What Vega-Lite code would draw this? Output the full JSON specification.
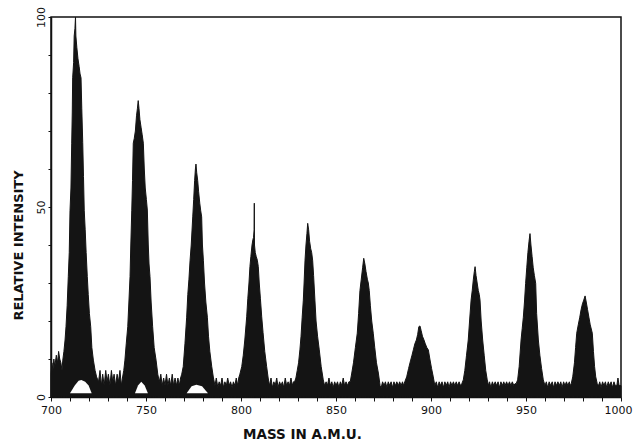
{
"$schema":"https://vega.github.io/schema/vega-lite/v6.json",
"width":570,"height":380,
"autosize":"none",
"padding":{"left":51,"top":17,"right":12,"bottom":51},
"background":"white",
"config":{"view":{"stroke":"#111","strokeWidth":1.5},
"axis":{"domainColor":"#111","domainWidth":1.5,"tickColor":"#111","labelColor":"#111","titleColor":"#111","labelFont":"DejaVu Sans","titleFont":"DejaVu Sans","grid":false,"labelOverlap":false}},
"datasets":{
"spec":[
{"m":700,"v":6},{"m":700.5,"v":9},{"m":701,"v":7},{"m":701.5,"v":10},{"m":702,"v":8},{"m":702.8,"v":11},{"m":703.5,"v":9},{"m":704,"v":12},{"m":704.6,"v":10},{"m":705.2,"v":9},{"m":705.8,"v":7},
{"m":706.2,"v":9.7},{"m":706.8,"v":12},{"m":707.4,"v":15},{"m":707.9,"v":18.5},{"m":708.5,"v":24},{"m":709.1,"v":31.7},{"m":709.6,"v":38},{"m":710,"v":49},{"m":710.5,"v":55},{"m":710.9,"v":66.8},{"m":711.2,"v":75},{"m":711.4,"v":84},{"m":711.9,"v":88},{"m":712.2,"v":95},{"m":712.6,"v":97},{"m":712.9,"v":100},{"m":713.1,"v":95},{"m":713.6,"v":92},{"m":714.2,"v":89},{"m":714.8,"v":87},{"m":715.3,"v":85},{"m":715.8,"v":84},{"m":716.2,"v":76},{"m":716.7,"v":67},{"m":717.1,"v":58},{"m":717.5,"v":49},{"m":718,"v":44},{"m":718.5,"v":38},{"m":719.1,"v":31.7},{"m":719.6,"v":27},{"m":720.2,"v":22},{"m":720.9,"v":18.5},{"m":721.5,"v":13},{"m":722.3,"v":9.7},{"m":723.2,"v":7},{"m":724,"v":5.3},
{"m":725,"v":4},{"m":725.8,"v":7},{"m":726.5,"v":3},{"m":727.2,"v":6},{"m":728,"v":3},{"m":728.8,"v":7},{"m":729.5,"v":4},{"m":730.2,"v":6},{"m":731,"v":3},{"m":731.8,"v":7},{"m":732.5,"v":4},{"m":733.2,"v":6},{"m":734,"v":3},{"m":734.8,"v":6},{"m":735.5,"v":4},{"m":736.3,"v":7},{"m":737,"v":3},{"m":737.6,"v":5},
{"m":738.3,"v":7},{"m":738.9,"v":9.7},{"m":739.6,"v":14},{"m":740.4,"v":18.5},{"m":741,"v":25},{"m":741.6,"v":31.7},{"m":742,"v":40},{"m":742.5,"v":49},{"m":742.9,"v":57},{"m":743.3,"v":66.8},{"m":743.8,"v":68},{"m":744.4,"v":70},{"m":745,"v":74},{"m":745.5,"v":76},{"m":745.9,"v":78},{"m":746.3,"v":76},{"m":746.8,"v":73},{"m":747.4,"v":71},{"m":748,"v":69},{"m":748.6,"v":66.8},{"m":749.1,"v":60},{"m":749.6,"v":55},{"m":750.2,"v":52},{"m":750.7,"v":49.2},{"m":751.2,"v":40},{"m":751.6,"v":35},{"m":752.1,"v":31.7},{"m":752.7,"v":25},{"m":753.5,"v":18.5},{"m":754.3,"v":13},{"m":755.3,"v":9.7},{"m":756.2,"v":6},
{"m":757,"v":4},{"m":757.8,"v":6},{"m":758.5,"v":3},{"m":759.3,"v":5},{"m":760,"v":3},{"m":760.8,"v":6},{"m":761.5,"v":3},{"m":762.3,"v":5},{"m":763,"v":3},{"m":763.8,"v":6},{"m":764.5,"v":3},{"m":765.3,"v":5},{"m":766,"v":3},{"m":766.8,"v":5},{"m":767.5,"v":3},{"m":768.2,"v":5},
{"m":768.8,"v":6},{"m":769.6,"v":8},{"m":770.5,"v":14},{"m":771.4,"v":21},{"m":772,"v":27},{"m":772.6,"v":31},{"m":773.2,"v":36},{"m":773.8,"v":40},{"m":774.6,"v":47.4},{"m":775.1,"v":52},{"m":775.6,"v":57},{"m":776,"v":60},{"m":776.3,"v":61.3},{"m":776.7,"v":59},{"m":777.2,"v":57},{"m":777.7,"v":54},{"m":778.3,"v":51},{"m":778.8,"v":49},{"m":779.3,"v":47.4},{"m":779.7,"v":40},{"m":780.2,"v":36},{"m":780.8,"v":30},{"m":781.5,"v":25},{"m":782.3,"v":21},{"m":782.9,"v":16},{"m":783.6,"v":12},{"m":784.6,"v":8},{"m":785.5,"v":5},
{"m":786.3,"v":3},{"m":787,"v":5},{"m":787.8,"v":2.5},{"m":788.5,"v":4},{"m":789.3,"v":3},{"m":790,"v":5},{"m":790.8,"v":2.5},{"m":791.5,"v":4},{"m":792.3,"v":3},{"m":793,"v":5},{"m":793.8,"v":3},{"m":794.5,"v":4},{"m":795.3,"v":2.5},{"m":796,"v":4},{"m":796.8,"v":3},{"m":797.5,"v":5},{"m":798.3,"v":3},{"m":798.8,"v":5},
{"m":799.4,"v":6},{"m":800.4,"v":8},{"m":801.2,"v":11},{"m":802,"v":15},{"m":803,"v":21.1},{"m":803.6,"v":26},{"m":804.2,"v":30},{"m":804.7,"v":34.3},{"m":805.2,"v":37},{"m":805.8,"v":40},{"m":806.3,"v":41.5},{"m":806.6,"v":42},{"m":806.9,"v":44},{"m":807.0,"v":51},{"m":807.1,"v":40},{"m":807.5,"v":38},{"m":808,"v":37},{"m":808.6,"v":36},{"m":809.1,"v":34.3},{"m":809.6,"v":30},{"m":810.2,"v":26},{"m":810.9,"v":21.1},{"m":811.6,"v":17},{"m":812.5,"v":12},{"m":813.5,"v":8},{"m":814.3,"v":5},
{"m":815,"v":3},{"m":815.8,"v":5},{"m":816.5,"v":2.5},{"m":817.3,"v":4},{"m":818,"v":3},{"m":818.8,"v":5},{"m":819.5,"v":2.5},{"m":820.3,"v":4},{"m":821,"v":3},{"m":821.8,"v":4},{"m":822.5,"v":2.5},{"m":823.3,"v":5},{"m":824,"v":3},{"m":824.8,"v":4},{"m":825.5,"v":3},{"m":826.3,"v":5},{"m":827,"v":3},{"m":827.6,"v":4},
{"m":828.2,"v":4},{"m":828.9,"v":5},{"m":829.6,"v":7},{"m":830.3,"v":9},{"m":831,"v":12.4},{"m":831.6,"v":16},{"m":832.2,"v":21},{"m":832.8,"v":25.5},{"m":833.2,"v":30},{"m":833.7,"v":36},{"m":834.2,"v":40},{"m":834.7,"v":43},{"m":835.1,"v":45.7},{"m":835.6,"v":44},{"m":836.1,"v":41},{"m":836.7,"v":39},{"m":837.2,"v":38},{"m":837.7,"v":36},{"m":838.2,"v":32},{"m":838.9,"v":25.5},{"m":839.5,"v":20},{"m":840.3,"v":16},{"m":841.2,"v":12.4},{"m":842.2,"v":8},{"m":843.3,"v":4.5},
{"m":844,"v":3},{"m":844.8,"v":4},{"m":845.5,"v":3},{"m":846.3,"v":5},{"m":847,"v":3},{"m":847.8,"v":4},{"m":848.5,"v":2.5},{"m":849.3,"v":4},{"m":850,"v":3},{"m":850.8,"v":4},{"m":851.5,"v":2.5},{"m":852.3,"v":4},{"m":853,"v":3},{"m":853.8,"v":5},{"m":854.5,"v":3},{"m":855.3,"v":4},{"m":856,"v":3},{"m":856.8,"v":4},
{"m":857.5,"v":4},{"m":858.3,"v":6.3},{"m":859.2,"v":9},{"m":860.2,"v":13},{"m":861.2,"v":16.8},{"m":861.9,"v":22},{"m":862.6,"v":28},{"m":863.3,"v":31},{"m":864,"v":34},{"m":864.6,"v":36.5},{"m":865.2,"v":35},{"m":865.8,"v":33},{"m":866.5,"v":31},{"m":867,"v":30},{"m":867.5,"v":28},{"m":868.1,"v":24},{"m":868.8,"v":20},{"m":869.6,"v":16.8},{"m":870.4,"v":13},{"m":871.3,"v":9},{"m":872.3,"v":6.3},
{"m":873.2,"v":3},{"m":873.8,"v":2.5},{"m":874.5,"v":4},{"m":875.3,"v":3},{"m":876,"v":4},{"m":876.8,"v":2.5},{"m":877.5,"v":4},{"m":878.3,"v":3},{"m":879,"v":4},{"m":879.8,"v":2.5},{"m":880.5,"v":4},{"m":881.3,"v":3},{"m":882,"v":4},{"m":882.8,"v":3},{"m":883.5,"v":4},{"m":884.3,"v":3},{"m":885,"v":4},{"m":885.6,"v":3},
{"m":886.2,"v":4},{"m":887.2,"v":5.3},{"m":888.2,"v":7.5},{"m":889.2,"v":9.5},{"m":890,"v":11},{"m":890.7,"v":12.4},{"m":891.5,"v":14},{"m":892.3,"v":15},{"m":893,"v":16.5},{"m":893.6,"v":18.5},{"m":894.2,"v":18.7},{"m":894.8,"v":17.5},{"m":895.5,"v":16},{"m":896.3,"v":15},{"m":897,"v":14},{"m":897.8,"v":13},{"m":898.6,"v":12.4},{"m":899.4,"v":10},{"m":900.3,"v":7.5},{"m":901.2,"v":5.3},
{"m":902,"v":3},{"m":902.8,"v":4},{"m":903.5,"v":2.5},{"m":904.3,"v":4},{"m":905,"v":3},{"m":905.8,"v":4},{"m":906.5,"v":2.5},{"m":907.3,"v":4},{"m":908,"v":3},{"m":908.8,"v":4},{"m":909.5,"v":2.5},{"m":910.3,"v":4},{"m":911,"v":3},{"m":911.8,"v":4},{"m":912.5,"v":3},{"m":913.3,"v":4},{"m":914,"v":3},{"m":914.8,"v":4},{"m":915.5,"v":3},
{"m":916.2,"v":3.5},{"m":917,"v":4.5},{"m":917.8,"v":7},{"m":918.7,"v":11},{"m":919.6,"v":15},{"m":920.3,"v":20},{"m":921.1,"v":25.5},{"m":921.7,"v":28},{"m":922.3,"v":31},{"m":922.8,"v":33},{"m":923.2,"v":34.3},{"m":923.7,"v":32},{"m":924.3,"v":30},{"m":924.9,"v":28},{"m":925.4,"v":27},{"m":925.8,"v":25.5},{"m":926.4,"v":20},{"m":927.2,"v":15},{"m":928,"v":11},{"m":928.8,"v":7},{"m":929.6,"v":4.5},
{"m":930.3,"v":3},{"m":930.8,"v":4},{"m":931.5,"v":2.5},{"m":932.3,"v":4},{"m":933,"v":3},{"m":933.8,"v":4},{"m":934.5,"v":3},{"m":935.3,"v":4},{"m":936,"v":2.5},{"m":936.8,"v":4},{"m":937.5,"v":3},{"m":938.3,"v":4},{"m":939,"v":3},{"m":939.8,"v":4},{"m":940.5,"v":3},{"m":941.3,"v":4},{"m":942,"v":3},{"m":942.8,"v":4},{"m":943.6,"v":3},{"m":944.2,"v":3.5},
{"m":944.8,"v":3.5},{"m":945.6,"v":4.5},{"m":946.4,"v":8},{"m":947.4,"v":15},{"m":948,"v":18},{"m":948.6,"v":21},{"m":949.2,"v":25},{"m":949.8,"v":29.9},{"m":950.4,"v":34},{"m":951,"v":38},{"m":951.6,"v":41},{"m":952.1,"v":43},{"m":952.6,"v":40},{"m":953.2,"v":37},{"m":953.8,"v":34},{"m":954.4,"v":32},{"m":955.1,"v":29.9},{"m":955.6,"v":22},{"m":956.5,"v":15},{"m":957.3,"v":11},{"m":958.2,"v":7.5},{"m":959.1,"v":4.5},
{"m":960,"v":3},{"m":960.7,"v":4},{"m":961.4,"v":2.5},{"m":962.2,"v":4},{"m":963,"v":3},{"m":963.8,"v":4},{"m":964.5,"v":2.5},{"m":965.3,"v":4},{"m":966,"v":3},{"m":966.8,"v":4},{"m":967.5,"v":3},{"m":968.3,"v":4},{"m":969,"v":2.5},{"m":969.8,"v":4},{"m":970.5,"v":3},{"m":971.3,"v":4},{"m":972,"v":3},{"m":972.8,"v":4},{"m":973.3,"v":3},
{"m":973.8,"v":3.5},{"m":974.6,"v":5.3},{"m":975.5,"v":9},{"m":976.1,"v":13},{"m":976.7,"v":16.8},{"m":977.5,"v":19},{"m":978.3,"v":21},{"m":979,"v":23},{"m":979.7,"v":24.5},{"m":980.4,"v":25.5},{"m":981.1,"v":26.6},{"m":981.7,"v":25},{"m":982.4,"v":23},{"m":983.1,"v":21},{"m":983.8,"v":19},{"m":984.9,"v":16.8},{"m":985.5,"v":12},{"m":986.1,"v":8},{"m":986.7,"v":5.3},{"m":987.5,"v":3.5},
{"m":988.2,"v":3},{"m":988.8,"v":4},{"m":989.5,"v":2.5},{"m":990.3,"v":4},{"m":991,"v":3},{"m":991.8,"v":4},{"m":992.5,"v":2.5},{"m":993.3,"v":4},{"m":994,"v":3},{"m":994.8,"v":4},{"m":995.5,"v":2.5},{"m":996.3,"v":4},{"m":997,"v":3},{"m":997.8,"v":3},{"m":998.4,"v":5},{"m":999,"v":3},{"m":1000,"v":3}
],
"hollow":[
{"p":1,"m":710,"v":1},{"p":1,"m":712.5,"v":3},{"p":1,"m":714.5,"v":4.3},{"p":1,"m":716,"v":4.5},{"p":1,"m":718,"v":4},{"p":1,"m":719.8,"v":3},{"p":1,"m":721.4,"v":1},
{"p":2,"m":744.2,"v":1},{"p":2,"m":745.8,"v":3},{"p":2,"m":747.5,"v":4},{"p":2,"m":749.3,"v":3},{"p":2,"m":751,"v":1},
{"p":3,"m":771.4,"v":1},{"p":3,"m":774,"v":2.8},{"p":3,"m":776.5,"v":3.2},{"p":3,"m":779.5,"v":2.8},{"p":3,"m":782.6,"v":1}
]},
"encoding":{
"x":{"field":"m","type":"quantitative","scale":{"domain":[700,1000],"nice":false,"zero":false},
"axis":{"title":"MASS IN A.M.U.","format":"d","values":[700,710,720,730,740,750,760,770,780,790,800,810,820,830,840,850,860,870,880,890,900,910,920,930,940,950,960,970,980,990,1000],
"labelExpr":"datum.value % 50 == 0 ? datum.label : ''","labelOverlap":false,"tickSize":4,"labelPadding":3,"labelFontSize":11,"labelFlush":false,
"labelOffset":{"condition":{"test":"datum.value == 1000","value":-3},"value":0},
"titleFontSize":13.5,"titlePadding":12,"titleX":251,"titleAlign":"center"}},
"y":{"field":"v","type":"quantitative","scale":{"domain":[0,100],"nice":false},
"axis":{"title":"RELATIVE INTENSITY","values":[0,10,20,30,40,50,60,70,80,90,100],
"labelExpr":"datum.value % 50 == 0 ? datum.label : ''","labelOverlap":false,"tickSize":3,"labelAngle":-90,"labelAlign":"center","labelBaseline":"bottom","labelPadding":2,"labelFontSize":11,"labelFlush":false,
"titleFontSize":13,"titleX":-33,"titleY":228,"titleAngle":-90,"titleAlign":"center","titleBaseline":"middle"}}},
"layer":[
{"data":{"name":"spec"},
"mark":{"type":"area","color":"#141414","stroke":"#141414","strokeWidth":1,"interpolate":"linear"}},
{"data":{"name":"hollow"},
"mark":{"type":"area","color":"white","interpolate":"linear"},
"encoding":{
"y2":{"datum":1},
"detail":{"field":"p"}}}
]
}
